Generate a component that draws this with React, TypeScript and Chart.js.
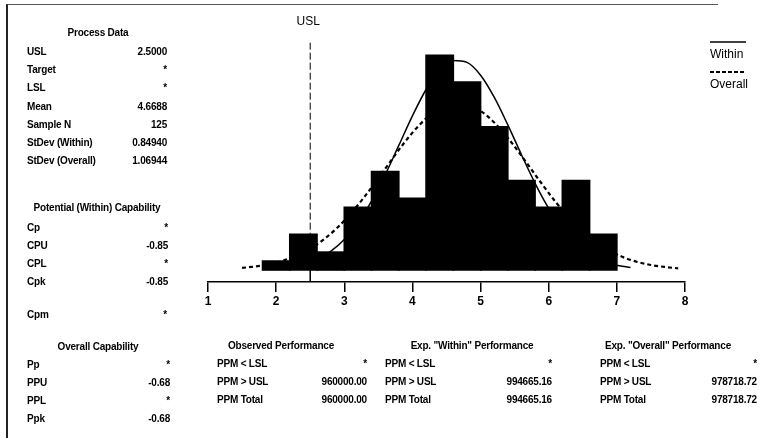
import React, { useEffect, useRef } from "react";
import { Chart, registerables } from "chart.js";

Chart.register(...registerables);

// ---- data ----
const binCenters = [2.0, 2.4, 2.8, 3.2, 3.6, 4.0, 4.4, 4.8, 5.2, 5.6, 6.0, 6.4, 6.8];
const binCounts = [1, 4, 2, 7, 11, 8, 24, 21, 16, 10, 7, 10, 4];

const withinX = [1.8, 2.0, 2.2, 2.4, 2.6, 2.8, 3.0, 3.2, 3.4, 3.6, 3.8, 4.0, 4.2, 4.4, 4.6, 4.8, 5.0, 5.2, 5.4, 5.6, 5.8, 6.0, 6.2, 6.4, 6.6, 6.8, 7.0, 7.2];
const withinY = [0.08, 0.17, 0.34, 0.66, 1.21, 2.09, 3.41, 5.27, 7.7, 10.64, 13.92, 17.22, 20.17, 22.34, 23.41, 23.2, 21.77, 19.31, 16.21, 12.88, 9.68, 6.88, 4.62, 2.94, 1.77, 1.01, 0.54, 0.28];

const overallX = [1.5, 1.7, 1.9, 2.1, 2.3, 2.5, 2.7, 2.9, 3.1, 3.3, 3.5, 3.7, 3.9, 4.1, 4.3, 4.5, 4.7, 4.9, 5.1, 5.3, 5.5, 5.7, 5.9, 6.1, 6.3, 6.5, 6.7, 6.9, 7.1, 7.3, 7.5, 7.7, 7.9];
const overallY = [0.23, 0.4, 0.65, 1.04, 1.61, 2.39, 3.43, 4.75, 6.36, 8.22, 10.26, 12.37, 14.41, 16.19, 17.58, 18.42, 18.65, 18.22, 17.2, 15.67, 13.79, 11.72, 9.62, 7.62, 5.83, 4.31, 3.07, 2.12, 1.41, 0.9, 0.56, 0.34, 0.19];

const uslValue = 2.5;
const uslTop = 25.4;
const xMin = 1;
const xMax = 8;
const yMin = -1.34;
const yMax = 25.7;

const processData: [string, string][] = [
  ["USL", "2.5000"],
  ["Target", "*"],
  ["LSL", "*"],
  ["Mean", "4.6688"],
  ["Sample N", "125"],
  ["StDev (Within)", "0.84940"],
  ["StDev (Overall)", "1.06944"],
];
const potentialCap: [string, string][] = [
  ["Cp", "*"],
  ["CPU", "-0.85"],
  ["CPL", "*"],
  ["Cpk", "-0.85"],
];
const cpmRow: [string, string] = ["Cpm", "*"];
const overallCap: [string, string][] = [
  ["Pp", "*"],
  ["PPU", "-0.68"],
  ["PPL", "*"],
  ["Ppk", "-0.68"],
];
const observedPerf: [string, string][] = [
  ["PPM < LSL", "*"],
  ["PPM > USL", "960000.00"],
  ["PPM Total", "960000.00"],
];
const withinPerf: [string, string][] = [
  ["PPM < LSL", "*"],
  ["PPM > USL", "994665.16"],
  ["PPM Total", "994665.16"],
];
const overallPerf: [string, string][] = [
  ["PPM < LSL", "*"],
  ["PPM > USL", "978718.72"],
  ["PPM Total", "978718.72"],
];

const W = 761;
const H = 438;
const FONT = "'Liberation Sans', Arial, sans-serif";

type TProps = { x: number; y: number; text: string; align?: "left" | "right" | "center" };

function T({ x, y, text, align = "left" }: TProps) {
  const base: React.CSSProperties = {
    position: "absolute",
    top: y - 6,
    lineHeight: "12px",
    fontFamily: FONT,
    fontSize: 10,
    fontWeight: "bold",
    letterSpacing: "-0.2px",
    color: "#000",
    whiteSpace: "nowrap",
  };
  if (align === "right") return <div style={{ ...base, right: W - x, textAlign: "right" }}>{text}</div>;
  if (align === "center") return <div style={{ ...base, left: x - 100, width: 200, textAlign: "center" }}>{text}</div>;
  return <div style={{ ...base, left: x }}>{text}</div>;
}

function Table({ rows, lx, rx, ys }: { rows: [string, string][]; lx: number; rx: number; ys: number[] }) {
  return (
    <>
      {rows.map((r, i) => (
        <React.Fragment key={i}>
          <T x={lx} y={ys[i]} text={r[0]} />
          <T x={rx} y={ys[i]} text={r[1]} align="right" />
        </React.Fragment>
      ))}
    </>
  );
}

export default function App() {
  const ref = useRef<HTMLCanvasElement | null>(null);

  useEffect(() => {
    const canvas = ref.current;
    if (!canvas) return;

    const overlay = {
      id: "overlay",
      afterDraw(chart: any) {
        const ctx = chart.ctx;
        const xs = chart.scales.x;
        ctx.save();
        ctx.fillStyle = "#000";
        ctx.textBaseline = "middle";
        ctx.font = `12px ${FONT}`;
        ctx.textAlign = "center";
        ctx.fillText("USL", xs.getPixelForValue(uslValue) - 2, 22);
        // legend
        ctx.textAlign = "left";
        ctx.strokeStyle = "#000";
        ctx.lineWidth = 1.5;
        ctx.beginPath();
        ctx.moveTo(710, 42);
        ctx.lineTo(746, 42);
        ctx.stroke();
        ctx.fillText("Within", 710, 55);
        ctx.lineWidth = 2;
        ctx.setLineDash([4, 2]);
        ctx.beginPath();
        ctx.moveTo(710, 72);
        ctx.lineTo(746, 72);
        ctx.stroke();
        ctx.setLineDash([]);
        ctx.fillText("Overall", 710, 85);
        ctx.restore();
      },
    };

    const chart = new Chart(canvas, {
      type: "bar",
      data: {
        datasets: [
          {
            type: "line",
            label: "Within",
            data: withinX.map((x, i) => ({ x, y: withinY[i] })),
            borderColor: "#000",
            borderWidth: 1.5,
            pointRadius: 0,
            fill: false,
            cubicInterpolationMode: "monotone",
            order: 1,
          } as any,
          {
            type: "line",
            label: "Overall",
            data: overallX.map((x, i) => ({ x, y: overallY[i] })),
            borderColor: "#000",
            borderWidth: 2.2,
            borderDash: [4, 3],
            pointRadius: 0,
            fill: false,
            cubicInterpolationMode: "monotone",
            order: 2,
          } as any,
          {
            type: "line",
            label: "USL",
            data: [
              { x: uslValue, y: uslTop },
              { x: uslValue, y: 0 },
            ],
            borderColor: "#000",
            borderWidth: 1,
            borderDash: [7, 3],
            pointRadius: 0,
            fill: false,
            order: 0,
          } as any,
          {
            type: "line",
            label: "USL base",
            data: [
              { x: uslValue, y: 0 },
              { x: uslValue, y: yMin },
            ],
            borderColor: "#000",
            borderWidth: 1.5,
            pointRadius: 0,
            fill: false,
            order: 0,
          } as any,
          {
            type: "bar",
            label: "Counts",
            data: binCenters.map((x, i) => ({ x, y: binCounts[i] })),
            backgroundColor: "#000",
            borderWidth: 0,
            inflateAmount: 0.8,
            barPercentage: 1,
            categoryPercentage: 1,
            order: 5,
          } as any,
        ],
      },
      options: {
        animation: false,
        responsive: false,
        devicePixelRatio: 1,
        layout: { padding: { left: 208, right: W - 685, top: 40, bottom: H - 282 - 30 } },
        plugins: { legend: { display: false }, tooltip: { enabled: false } },
        scales: {
          x: {
            type: "linear",
            min: xMin,
            max: xMax,
            offset: false,
            afterFit: (s: any) => {
              s.height = 30;
            },
            ticks: {
              stepSize: 1,
              color: "#000",
              padding: 2,
              font: { family: FONT, size: 12, weight: "bold" },
              maxRotation: 0,
            },
            grid: {
              offset: false,
              drawOnChartArea: false,
              drawTicks: true,
              tickLength: 10,
              color: "#000",
              lineWidth: 1.5,
            },
            border: { display: true, color: "#000", width: 1.5 },
          },
          y: {
            type: "linear",
            display: false,
            min: yMin,
            max: yMax,
          },
        },
      } as any,
      plugins: [overlay],
    });

    return () => chart.destroy();
  }, []);

  const leftRows = [52, 70, 88, 107, 125, 143, 161];
  const capRows = [228, 246, 264, 282];
  const ovRows = [365, 383, 401, 419];
  const perfRows = [364, 382, 400];

  return (
    <div style={{ position: "absolute", left: 0, top: 0, width: W, height: H, background: "#fff", overflow: "hidden" }}>
      <canvas ref={ref} width={W} height={H} style={{ position: "absolute", left: 0, top: 0, width: W, height: H }} />
      <div style={{ position: "absolute", left: 6, top: 4, width: 710, height: 440, borderLeft: "2px solid #222", borderTop: "1px solid #555" }} />

      <T x={98} y={33} text="Process Data" align="center" />
      <Table rows={processData} lx={27} rx={167} ys={leftRows} />

      <T x={97} y={208} text="Potential (Within) Capability" align="center" />
      <Table rows={potentialCap} lx={27} rx={168} ys={capRows} />
      <T x={27} y={315} text={cpmRow[0]} />
      <T x={167} y={315} text={cpmRow[1]} align="right" />

      <T x={98} y={347} text="Overall Capability" align="center" />
      <Table rows={overallCap} lx={27} rx={170} ys={ovRows} />

      <T x={281} y={346} text="Observed Performance" align="center" />
      <Table rows={observedPerf} lx={217} rx={367} ys={perfRows} />

      <T x={472} y={346} text={'Exp. "Within" Performance'} align="center" />
      <Table rows={withinPerf} lx={385} rx={552} ys={perfRows} />

      <T x={668} y={346} text={'Exp. "Overall" Performance'} align="center" />
      <Table rows={overallPerf} lx={600} rx={757} ys={perfRows} />
    </div>
  );
}
